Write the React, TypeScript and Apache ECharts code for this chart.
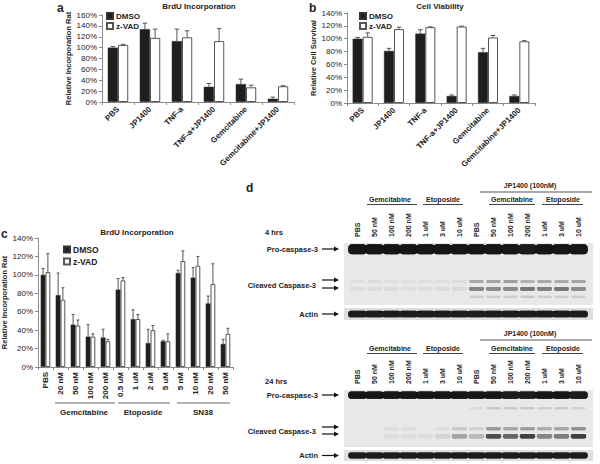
import React, { useEffect, useRef } from 'react';
import * as echarts from 'echarts';

// ---------- Panel a / b data ----------
const catsAB = ['PBS', 'JP1400', 'TNF-a', 'TNF-a+JP1400', 'Gemcitabine', 'Gemcitabine+JP1400'];
const aDMSO = [100, 134, 112, 28, 33, 6];
const aDMSOErr = [102, 145, 134, 34, 42, 9];
const aZVAD = [105, 118, 119, 112, 27, 29];
const aZVADErr = [106, 134, 131, 135, 31, 30];

const bDMSO = [100, 81, 108, 11, 79, 11];
const bDMSOErr = [102, 85, 114, 12.5, 85, 12.5];
const bZVAD = [103, 115, 118, 119, 102, 96];
const bZVADErr = [109, 118, 118.5, 119.5, 105, 97];

// ---------- Panel c data ----------
const catsC = ['PBS', '20 nM', '50 nM', '100 nM', '200 nM', '0.5 uM', '1 uM', '2 uM', '5 uM', '5 nM', '10 nM', '20 nM', '50 nM'];
const cDMSO = [100, 78, 46, 33, 32, 84, 52, 26, 28, 102, 97, 69, 25];
const cDMSOErr = [107, 102, 57, 46, 41, 96, 62, 41, 29, 105, 108, 77, 30];
const cZVAD = [103, 73, 45, 33, 28, 94, 52, 40, 28, 115, 110, 90, 36];
const cZVADErr = [123, 86, 51, 36, 30, 97, 57, 45, 36, 126, 120, 112, 42];
const groupsC = ['Gemcitabine', 'Etoposide', 'SN38'];

// ---------- Panel d (western blot) data ----------
const laneLabels = ['PBS', '50 nM', '100 nM', '200 nM', '1 uM', '3 uM', '10 uM', 'PBS', '50 nM', '100 nM', '200 nM', '1 uM', '3 uM', '10 uM'];
const pro4h = [1, 1, 1, 1, 1, 1, 1, 1, 1, 1, 0.95, 1, 1, 1];
const cleavedUp4h = [0.02, 0.03, 0.02, 0.02, 0.02, 0.02, 0.03, 0.28, 0.3, 0.33, 0.24, 0.28, 0.27, 0.3];
const cleavedLow4h = [0.02, 0.03, 0.03, 0.02, 0.02, 0.03, 0.04, 0.45, 0.42, 0.42, 0.52, 0.48, 0.52, 0.42];
const faint4h = [0, 0, 0, 0, 0, 0, 0, 0.1, 0.1, 0.1, 0.12, 0.1, 0.1, 0.1];
const actin4h = [0.95, 0.95, 0.95, 0.95, 0.95, 0.95, 0.95, 0.95, 0.95, 0.95, 0.95, 0.97, 0.95, 0.95];
const pro24h = [1, 1, 1, 1, 1, 1, 1, 0.98, 0.98, 0.96, 0.95, 0.98, 0.98, 0.96];
const faint24h = [0, 0, 0, 0, 0, 0, 0, 0.04, 0.13, 0.11, 0.13, 0.1, 0.12, 0.08];
const cleavedUp24h = [0, 0, 0.02, 0.02, 0, 0.02, 0.12, 0.08, 0.36, 0.3, 0.34, 0.26, 0.3, 0.4];
const cleavedLow24h = [0, 0, 0.02, 0.02, 0.02, 0.07, 0.3, 0.2, 0.72, 0.6, 0.78, 0.45, 0.5, 0.78];
const actin24h = [0.95, 0.95, 0.95, 0.95, 0.95, 0.95, 0.95, 0.95, 0.95, 0.95, 0.95, 0.95, 0.95, 0.95];

// band migration (0 = top of membrane, 100 = bottom), thickness in the same units, lane fill fraction
const rows4h = [
  { vals: pro4h, pos: 10, th: 16, fill: 1.08 },
  { vals: cleavedUp4h, pos: 62, th: 5, fill: 0.82 },
  { vals: cleavedLow4h, pos: 74, th: 6, fill: 0.86 },
  { vals: faint4h, pos: 87, th: 3.5, fill: 0.8 },
];
const rows24h = [
  { vals: pro24h, pos: 9, th: 13, fill: 1.08 },
  { vals: faint24h, pos: 32, th: 3.5, fill: 0.8 },
  { vals: cleavedUp24h, pos: 68, th: 5.5, fill: 0.85 },
  { vals: cleavedLow24h, pos: 81, th: 8, fill: 0.9 },
];

const BAR_FRAC = 0.32;
const TXT = '#222';
const AXIS = '#8c8c8c';
const FONT = 'Liberation Sans, Arial, sans-serif';

const darkStyle = { color: '#1e1e1e', borderColor: '#333', borderWidth: 0.5 };
const whiteStyle = { color: '#ffffff', borderColor: '#555', borderWidth: 1 };

function errRender(offset: number) {
  return (params: any, api: any) => {
    const x = api.value(0);
    const top = api.value(1);
    const err = api.value(2);
    const p1 = api.coord([x, top]);
    const p2 = api.coord([x, err]);
    const bw = api.size([1, 0])[0] * BAR_FRAC;
    const cx = p1[0] + (offset * bw) / 2;
    const cap = Math.max(3, bw * 0.45);
    const st = { stroke: '#555', lineWidth: 1 };
    return {
      type: 'group',
      children: [
        { type: 'line', shape: { x1: cx, y1: p1[1], x2: cx, y2: p2[1] }, style: st },
        { type: 'line', shape: { x1: cx - cap / 2, y1: p2[1], x2: cx + cap / 2, y2: p2[1] }, style: st },
      ],
    };
  };
}

function bandRender(params: any, api: any) {
  const lane = api.value(0);
  const pos = api.value(1);
  const inten = api.value(2);
  const th = api.value(3);
  const fill = api.value(4);
  if (inten <= 0) return null;
  const c = api.coord([lane, pos]);
  const w = api.size([1, 0])[0] * fill;
  const h = Math.max(1.5, api.size([0, th])[1]);
  const g = Math.round(226 - inten * 206);
  const col = `rgb(${g},${g},${g})`;
  return {
    type: 'rect',
    shape: { x: c[0] - w / 2, y: c[1] - h / 2, width: w, height: h, r: h / 2.5 },
    style: { fill: col, shadowBlur: 1.5, shadowColor: col },
  };
}

function bandData(rows: { vals: number[]; pos: number; th: number; fill: number }[]) {
  const out: number[][] = [];
  rows.forEach((r) => r.vals.forEach((v, i) => out.push([i, r.pos, v, r.th, r.fill])));
  return out;
}
function actinData(vals: number[]) {
  return vals.map((v, i) => [i, 50, v, 56, 1.08]);
}

function valueYAxis(grid: number, max: number, name: string, gap: number) {
  return {
    type: 'value',
    gridIndex: grid,
    min: 0,
    max,
    interval: 20,
    name,
    nameLocation: 'middle',
    nameGap: gap,
    nameTextStyle: { fontSize: 7.5, fontWeight: 'bold', color: TXT, fontFamily: FONT },
    axisLine: { show: true, lineStyle: { color: AXIS, width: 1 } },
    axisTick: { show: true, length: 3, lineStyle: { color: AXIS } },
    axisLabel: { fontSize: 8, color: TXT, margin: 5, formatter: '{value}%', fontFamily: FONT },
    splitLine: { show: false },
  };
}

function catXAxis(grid: number, data: string[], rotate: number, margin: number) {
  return {
    type: 'category',
    gridIndex: grid,
    data,
    axisLine: { show: true, lineStyle: { color: AXIS, width: 1 } },
    axisTick: { show: true, length: 3, alignWithLabel: false, lineStyle: { color: AXIS } },
    axisLabel: { interval: 0, rotate, fontSize: 8, fontWeight: 'bold', color: TXT, margin, fontFamily: FONT },
    splitLine: { show: false },
  };
}

function laneXAxis(grid: number, showLabels: boolean) {
  return {
    type: 'category',
    gridIndex: grid,
    data: laneLabels.map((_, i) => String(i)),
    position: 'top',
    axisLine: { show: false },
    axisTick: { show: false },
    axisLabel: {
      show: showLabels,
      interval: 0,
      rotate: 90,
      fontSize: 7,
      fontWeight: 'bold',
      color: TXT,
      margin: 6,
      fontFamily: FONT,
      formatter: (_v: string, i: number) => laneLabels[i],
    },
    splitLine: { show: false },
  };
}
function laneYAxis(grid: number) {
  return { type: 'value', gridIndex: grid, min: 0, max: 100, inverse: true, show: false };
}

function txt(x: number, y: number, text: string, size: number, align = 'center', weight = 'bold') {
  return {
    type: 'text',
    x,
    y,
    style: { text, fontSize: size, fontWeight: weight, fill: TXT, textAlign: align, textVerticalAlign: 'middle', verticalAlign: 'middle', fontFamily: FONT },
  };
}
function hline(x1: number, x2: number, y: number, color = '#444', w = 1) {
  return { type: 'line', shape: { x1, y1: y, x2, y2: y }, style: { stroke: color, lineWidth: w } };
}
function arrow(x1: number, x2: number, y: number) {
  return [
    { type: 'line', shape: { x1, y1: y, x2: x2 - 4, y2: y }, style: { stroke: '#111', lineWidth: 1.2 } },
    { type: 'polygon', shape: { points: [[x2 - 5, y - 2.5], [x2, y], [x2 - 5, y + 2.5]] }, style: { fill: '#111' } },
  ];
}

function blotAnnotations(yJP: number, yGroup: number, hoursY: number, hours: string, proY: number, clY1: number, clY2: number, actY: number) {
  return [
    txt(530, yJP, 'JP1400 (100nM)', 7),
    hline(480, 592, yJP + 7, '#555', 1.2),
    txt(390, yGroup, 'Gemcitabine', 7),
    hline(367, 417, yGroup + 5.5),
    txt(443, yGroup, 'Etoposide', 7),
    hline(423, 463, yGroup + 5.5),
    txt(512, yGroup, 'Gemcitabine', 7),
    hline(489, 535, yGroup + 5.5),
    txt(563, yGroup, 'Etoposide', 7),
    hline(542, 583, yGroup + 5.5),
    txt(265, hoursY, hours, 7.5, 'left'),
    txt(318, proY, 'Pro-caspase-3', 7.5, 'right'),
    ...arrow(322, 339, proY),
    txt(316, (clY1 + clY2) / 2 + 1, 'Cleaved Caspase-3', 7.5, 'right'),
    ...arrow(322, 339, clY1),
    ...arrow(322, 339, clY2),
    txt(318, actY, 'Actin', 7.5, 'right'),
    ...arrow(322, 339, actY),
  ];
}

function blotBg(y: number, h: number, color: string) {
  return { type: 'rect', z: -1, shape: { x: 344, y, width: 249, height: h }, style: { fill: color } };
}

const legendBase = {
  data: ['DMSO', 'z-VAD'],
  orient: 'vertical',
  itemWidth: 6,
  itemHeight: 6,
  itemGap: 2,
  icon: 'rect',
  selectedMode: false,
  padding: 0,
  textStyle: { fontSize: 8, fontWeight: 'bold', color: TXT, fontFamily: FONT, padding: [0, 0, 0, -2] },
};

const option: any = {
  animation: false,
  backgroundColor: '#ffffff',
  textStyle: { fontFamily: FONT },
  legend: [
    { ...legendBase, left: 106, top: 12 },
    { ...legendBase, left: 359, top: 12 },
    { ...legendBase, left: 63, top: 245, itemGap: 3, textStyle: { ...legendBase.textStyle, fontSize: 8.5 } },
  ],
  grid: [
    { left: 102, top: 15, width: 192, height: 87, outerBoundsMode: 'none' },
    { left: 347, top: 13, width: 188, height: 90, outerBoundsMode: 'none' },
    { left: 38, top: 238, width: 195, height: 129, outerBoundsMode: 'none' },
    { left: 349, top: 243, width: 238, height: 62, outerBoundsMode: 'none' },
    { left: 349, top: 308, width: 238, height: 12, outerBoundsMode: 'none' },
    { left: 349, top: 390, width: 238, height: 57, outerBoundsMode: 'none' },
    { left: 349, top: 450, width: 238, height: 11, outerBoundsMode: 'none' },
  ],
  xAxis: [
    catXAxis(0, catsAB, 45, 6),
    catXAxis(1, catsAB, 45, 6),
    catXAxis(2, catsC, 90, 5),
    laneXAxis(3, true),
    laneXAxis(4, false),
    laneXAxis(5, true),
    laneXAxis(6, false),
  ],
  yAxis: [
    valueYAxis(0, 160, 'Relative Incorporation Rat', 28),
    valueYAxis(1, 140, 'Relative Cell Survival', 20),
    valueYAxis(2, 140, 'Relative Incorporation Rat', 27),
    laneYAxis(3),
    laneYAxis(4),
    laneYAxis(5),
    laneYAxis(6),
  ],
  series: [
    { type: 'bar', name: 'DMSO', xAxisIndex: 0, yAxisIndex: 0, data: aDMSO, barWidth: '32%', barGap: '0%', itemStyle: darkStyle },
    { type: 'bar', name: 'z-VAD', xAxisIndex: 0, yAxisIndex: 0, data: aZVAD, barWidth: '32%', barGap: '0%', itemStyle: whiteStyle },
    { type: 'custom', name: 'errA1', xAxisIndex: 0, yAxisIndex: 0, z: 5, renderItem: errRender(-1), encode: { x: 0, y: [1, 2] }, data: aDMSO.map((v, i) => [i, v, aDMSOErr[i]]) },
    { type: 'custom', name: 'errA2', xAxisIndex: 0, yAxisIndex: 0, z: 5, renderItem: errRender(1), encode: { x: 0, y: [1, 2] }, data: aZVAD.map((v, i) => [i, v, aZVADErr[i]]) },

    { type: 'bar', name: 'DMSO', xAxisIndex: 1, yAxisIndex: 1, data: bDMSO, barWidth: '32%', barGap: '0%', itemStyle: darkStyle },
    { type: 'bar', name: 'z-VAD', xAxisIndex: 1, yAxisIndex: 1, data: bZVAD, barWidth: '32%', barGap: '0%', itemStyle: whiteStyle },
    { type: 'custom', name: 'errB1', xAxisIndex: 1, yAxisIndex: 1, z: 5, renderItem: errRender(-1), encode: { x: 0, y: [1, 2] }, data: bDMSO.map((v, i) => [i, v, bDMSOErr[i]]) },
    { type: 'custom', name: 'errB2', xAxisIndex: 1, yAxisIndex: 1, z: 5, renderItem: errRender(1), encode: { x: 0, y: [1, 2] }, data: bZVAD.map((v, i) => [i, v, bZVADErr[i]]) },

    { type: 'bar', name: 'DMSO', xAxisIndex: 2, yAxisIndex: 2, data: cDMSO, barWidth: '32%', barGap: '0%', itemStyle: darkStyle },
    { type: 'bar', name: 'z-VAD', xAxisIndex: 2, yAxisIndex: 2, data: cZVAD, barWidth: '32%', barGap: '0%', itemStyle: whiteStyle },
    { type: 'custom', name: 'errC1', xAxisIndex: 2, yAxisIndex: 2, z: 5, renderItem: errRender(-1), encode: { x: 0, y: [1, 2] }, data: cDMSO.map((v, i) => [i, v, cDMSOErr[i]]) },
    { type: 'custom', name: 'errC2', xAxisIndex: 2, yAxisIndex: 2, z: 5, renderItem: errRender(1), encode: { x: 0, y: [1, 2] }, data: cZVAD.map((v, i) => [i, v, cZVADErr[i]]) },

    { type: 'custom', name: 'blot4h', xAxisIndex: 3, yAxisIndex: 3, renderItem: bandRender, encode: { x: 0, y: 1 }, data: bandData(rows4h) },
    { type: 'custom', name: 'actin4h', xAxisIndex: 4, yAxisIndex: 4, renderItem: bandRender, encode: { x: 0, y: 1 }, data: actinData(actin4h) },
    { type: 'custom', name: 'blot24h', xAxisIndex: 5, yAxisIndex: 5, renderItem: bandRender, encode: { x: 0, y: 1 }, data: bandData(rows24h) },
    { type: 'custom', name: 'actin24h', xAxisIndex: 6, yAxisIndex: 6, renderItem: bandRender, encode: { x: 0, y: 1 }, data: actinData(actin24h) },
  ],
  graphic: [
    blotBg(243, 62, '#e8e8e8'),
    blotBg(308, 12, '#dedede'),
    blotBg(390, 57, '#e8e8e8'),
    blotBg(450, 11, '#dedede'),
    txt(57, 8, 'a', 12, 'left'),
    txt(199, 6, 'BrdU Incorporation', 8),
    txt(309, 8, 'b', 12, 'left'),
    txt(440, 6, 'Cell Viability', 8),
    txt(1, 234, 'c', 12, 'left'),
    txt(137, 232, 'BrdU Incorporation', 8),
    hline(55, 115, 403, '#666'),
    hline(118, 170, 403, '#666'),
    hline(177, 230, 403, '#666'),
    txt(84, 412, groupsC[0], 8),
    txt(143, 412, groupsC[1], 8),
    txt(203, 412, groupsC[2], 8),
    txt(246, 188, 'd', 12, 'left'),
    ...blotAnnotations(185, 199, 232, '4 hrs', 249, 280, 288, 314),
    ...blotAnnotations(333, 348, 381, '24 hrs', 395, 427, 434, 455.5),
  ],
};

export default function App() {
  const ref = useRef<HTMLDivElement>(null);
  useEffect(() => {
    document.body.style.margin = '0';
    const chart = echarts.init(ref.current as HTMLDivElement, null, { renderer: 'svg' });
    chart.setOption(option);
    return () => chart.dispose();
  }, []);
  return <div ref={ref} style={{ width: 600, height: 464 }} />;
}
